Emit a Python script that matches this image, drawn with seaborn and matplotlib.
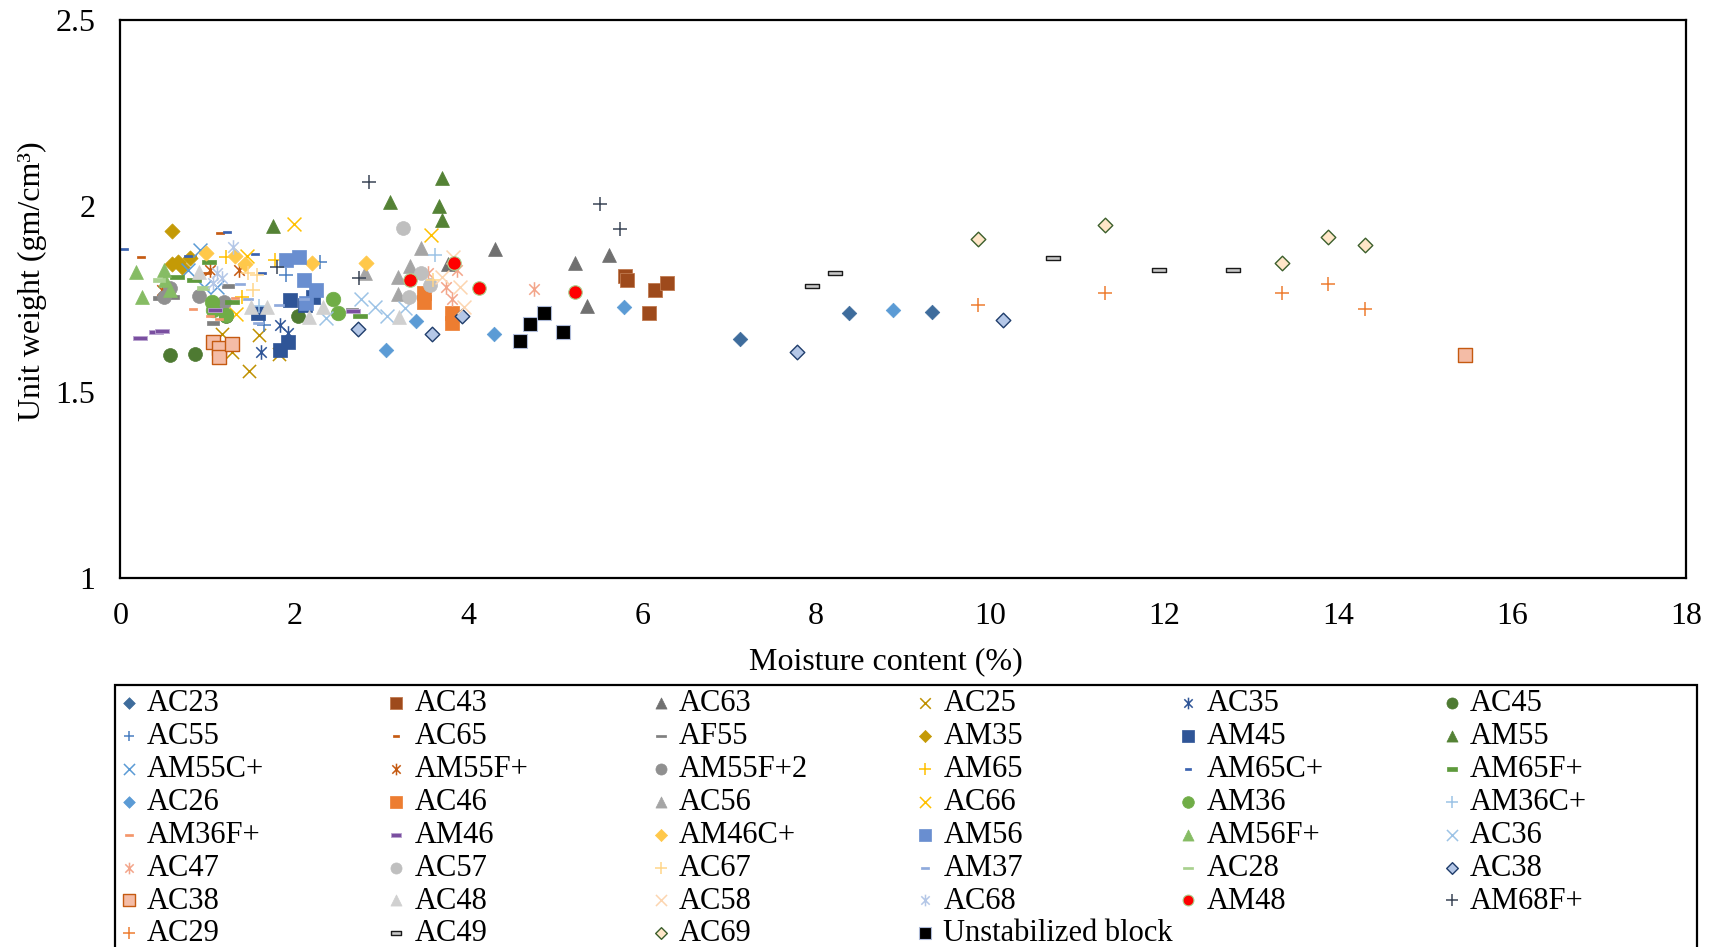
import matplotlib
matplotlib.use("Agg")
import matplotlib.pyplot as plt
from matplotlib.patches import Rectangle
import seaborn as sns
from matplotlib.path import Path

# ---- measured moisture content (%) and unit weight (gm/cm3) per block type ----
x_AC23 = [7.13, 8.38, 9.33]
y_AC23 = [1.642, 1.711, 1.715]
x_AC43 = [5.80, 5.83, 6.08, 6.15, 6.29]
y_AC43 = [1.811, 1.800, 1.711, 1.774, 1.792]
x_AC63 = [3.77, 4.31, 5.23, 5.37, 5.62]
y_AC63 = [1.843, 1.884, 1.846, 1.731, 1.868]
x_AC25 = [1.17, 1.28, 1.48, 1.60, 1.82]
y_AC25 = [1.655, 1.608, 1.557, 1.653, 1.602]
x_AC35 = [1.62, 1.84, 1.93]
y_AC35 = [1.608, 1.680, 1.659]
x_AC45 = [0.57, 0.86, 1.22, 2.04]
y_AC45 = [1.599, 1.601, 1.705, 1.705]
x_AC55 = [1.65, 1.90, 2.30]
y_AC55 = [1.680, 1.814, 1.850]
x_AC65 = [0.24, 0.82, 1.00, 1.15]
y_AC65 = [1.863, 1.866, 1.820, 1.926]
x_AF55 = [0.44, 0.61, 1.07, 1.24, 2.66]
y_AF55 = [1.753, 1.756, 1.684, 1.785, 1.720]
x_AM35 = [0.60, 0.60, 0.66, 0.71, 0.80]
y_AM35 = [1.933, 1.845, 1.850, 1.836, 1.859]
x_AM45 = [1.58, 1.84, 1.93, 1.95, 2.12, 2.22]
y_AM45 = [1.711, 1.613, 1.635, 1.747, 1.733, 1.756]
x_AM55 = [1.76, 3.10, 3.67, 3.70, 3.70]
y_AM55 = [1.946, 2.011, 2.000, 2.074, 1.962]
x_AM55Cp = [0.78, 0.92, 0.96, 1.11]
y_AM55Cp = [1.828, 1.881, 1.783, 1.783]
x_AM55Fp = [0.48, 1.03, 1.36]
y_AM55Fp = [1.774, 1.828, 1.828]
x_AM55Fp2 = [0.50, 0.57, 0.90, 1.19]
y_AM55Fp2 = [1.756, 1.780, 1.758, 1.742]
x_AM65 = [1.21, 1.40, 1.78]
y_AM65 = [1.862, 1.754, 1.854]
x_AM65Cp = [0.04, 0.78, 1.23, 1.55, 1.63]
y_AM65Cp = [1.884, 1.866, 1.930, 1.870, 1.819]
x_AM65Fp = [0.65, 0.85, 1.02, 1.28, 2.76]
y_AM65Fp = [1.808, 1.800, 1.850, 1.742, 1.705]
x_AC26 = [3.06, 3.40, 4.30, 5.79, 8.88]
y_AC26 = [1.614, 1.690, 1.657, 1.727, 1.720]
x_AC46 = [3.49, 3.49, 3.81, 3.81]
y_AC46 = [1.765, 1.742, 1.711, 1.684]
x_AC56 = [2.81, 3.19, 3.19, 3.33, 3.46]
y_AC56 = [1.820, 1.810, 1.763, 1.838, 1.887]
x_AC66 = [1.33, 1.46, 2.00, 3.57]
y_AC66 = [1.709, 1.865, 1.951, 1.922]
x_AM36 = [1.06, 1.07, 1.22, 2.45, 2.50]
y_AM36 = [1.742, 1.720, 1.707, 1.751, 1.711]
x_AM36Cp = [1.60, 3.62]
y_AM36Cp = [1.730, 1.868]
x_AM36Fp = [0.84, 1.03, 1.13, 1.32]
y_AM36Fp = [1.723, 1.705, 1.695, 1.752]
x_AM46 = [0.23, 0.41, 0.48, 1.09, 2.68]
y_AM46 = [1.644, 1.662, 1.664, 1.720, 1.717]
x_AM46Cp = [0.99, 1.32, 1.43, 2.21, 2.83]
y_AM46Cp = [1.874, 1.865, 1.845, 1.847, 1.847]
x_AM56 = [1.90, 2.06, 2.11, 2.14, 2.25]
y_AM56 = [1.854, 1.862, 1.800, 1.738, 1.774]
x_AM56Fp = [0.18, 0.25, 0.50, 0.52, 0.57]
y_AM56Fp = [1.823, 1.756, 1.828, 1.800, 1.774]
x_AC36 = [2.37, 2.77, 2.93, 3.07, 3.27]
y_AC36 = [1.698, 1.750, 1.729, 1.704, 1.725]
x_AC47 = [3.54, 3.75, 3.81, 3.87, 4.76]
y_AC47 = [1.819, 1.783, 1.751, 1.828, 1.776]
x_AC57 = [3.25, 3.32, 3.46, 3.56]
y_AC57 = [1.941, 1.756, 1.819, 1.787]
x_AC67 = [1.47, 1.53, 1.57, 3.60]
y_AC67 = [1.819, 1.774, 1.814, 1.800]
x_AM37 = [1.38, 1.47, 1.58, 1.82, 2.11]
y_AM37 = [1.790, 1.751, 1.686, 1.733, 1.750]
x_AC28 = [0.45, 0.95]
y_AC28 = [1.800, 1.780]
x_AC38d = [2.73, 3.58, 3.93, 7.78, 10.15]
y_AC38d = [1.669, 1.657, 1.705, 1.608, 1.693]
x_AC38s = [1.07, 1.13, 1.13, 1.28, 15.46]
y_AC38s = [1.635, 1.617, 1.595, 1.629, 1.599]
x_AC48 = [0.90, 1.50, 1.69, 2.17, 2.33, 3.20]
y_AC48 = [1.823, 1.727, 1.727, 1.702, 1.729, 1.702]
x_AC58 = [3.70, 3.83, 3.91, 3.95]
y_AC58 = [1.810, 1.863, 1.783, 1.729]
x_AC68 = [1.07, 1.11, 1.17, 1.30]
y_AC68 = [1.792, 1.819, 1.805, 1.890]
x_AM48 = [3.33, 3.84, 4.13, 5.23]
y_AM48 = [1.800, 1.847, 1.780, 1.769]
x_AM68Fp = [1.80, 2.74, 2.86, 5.52, 5.74]
y_AM68Fp = [1.836, 1.805, 2.065, 2.005, 1.938]
x_AC29 = [9.86, 11.32, 13.36, 13.88, 14.31]
y_AC29 = [1.733, 1.767, 1.767, 1.791, 1.722]
x_AC49 = [7.95, 8.22, 10.72, 11.94, 12.79]
y_AC49 = [1.784, 1.820, 1.859, 1.827, 1.827]
x_AC69 = [9.86, 11.32, 13.36, 13.88, 14.31]
y_AC69 = [1.910, 1.948, 1.846, 1.917, 1.895]
x_UNS = [4.59, 4.71, 4.87, 5.09]
y_UNS = [1.636, 1.682, 1.711, 1.662]

x_ticks = [0, 2, 4, 6, 8, 10, 12, 14, 16, 18]
y_ticks = [1, 1.5, 2, 2.5]
y_tick_labels = ["1", "1.5", "2", "2.5"]

# ---- marker shapes ----
DASH = Path([(-1, -0.3), (1, -0.3), (1, 0.3), (-1, 0.3), (-1, -0.3)],
            [Path.MOVETO, Path.LINETO, Path.LINETO, Path.LINETO, Path.CLOSEPOLY])
# an "x" with a vertical stroke through it
ASTER = Path([(0, -1), (0, 1), (-0.72, -0.72), (0.72, 0.72), (-0.72, 0.72), (0.72, -0.72)],
             [Path.MOVETO, Path.LINETO, Path.MOVETO, Path.LINETO, Path.MOVETO, Path.LINETO])

# label, x, y, marker, size, face colour, edge colour, line width
series = [
    ("AC23", x_AC23, y_AC23, "D", 55, "#3E6C9C", "#3E6C9C", 0.5),
    ("AC43", x_AC43, y_AC43, "s", 100, "#9E4A1C", "#C07A50", 0.6),
    ("AC63", x_AC63, y_AC63, "^", 100, "#707070", "#707070", 0.5),
    ("AC25", x_AC25, y_AC25, "x", 90, "#BF9000", None, 1.1),
    ("AC35", x_AC35, y_AC35, ASTER, 110, "#2F5597", "#2F5597", 1.1),
    ("AC45", x_AC45, y_AC45, "o", 100, "#4E7A32", "#4E7A32", 0.5),
    ("AC55", x_AC55, y_AC55, "+", 90, "#4A7FC1", None, 1.1),
    ("AC65", x_AC65, y_AC65, DASH, 36, "#C55A11", "#C55A11", 0.5),
    ("AF55", x_AF55, y_AF55, DASH, 70, "#7F7F7F", "#7F7F7F", 0.5),
    ("AM35", x_AM35, y_AM35, "D", 60, "#C49A06", "#C49A06", 0.5),
    ("AM45", x_AM45, y_AM45, "s", 110, "#2F5597", "#2F5597", 0.5),
    ("AM55", x_AM55, y_AM55, "^", 100, "#548235", "#548235", 0.5),
    ("AM55C+", x_AM55Cp, y_AM55Cp, "x", 100, "#5B9BD5", None, 1.1),
    ("AM55F+", x_AM55Fp, y_AM55Fp, ASTER, 110, "#C55A11", "#C55A11", 1.1),
    ("AM55F+2", x_AM55Fp2, y_AM55Fp2, "o", 100, "#909090", "#909090", 0.5),
    ("AM65", x_AM65, y_AM65, "+", 100, "#FFC000", None, 1.1),
    ("AM65C+", x_AM65Cp, y_AM65Cp, DASH, 36, "#3A62B0", "#3A62B0", 0.5),
    ("AM65F+", x_AM65Fp, y_AM65Fp, DASH, 90, "#5E9A3C", "#5E9A3C", 0.5),
    ("AC26", x_AC26, y_AC26, "D", 55, "#5B9BD5", "#5B9BD5", 0.5),
    ("AC46", x_AC46, y_AC46, "s", 100, "#ED7D31", "#ED7D31", 0.5),
    ("AC56", x_AC56, y_AC56, "^", 100, "#A5A5A5", "#A5A5A5", 0.5),
    ("AC66", x_AC66, y_AC66, "x", 100, "#FFC000", None, 1.1),
    ("AM36", x_AM36, y_AM36, "o", 110, "#70AD47", "#70AD47", 0.5),
    ("AM36C+", x_AM36Cp, y_AM36Cp, "+", 100, "#9DC3E6", None, 1.1),
    ("AM36F+", x_AM36Fp, y_AM36Fp, DASH, 40, "#F4966A", "#F4966A", 0.5),
    ("AM46", x_AM46, y_AM46, DASH, 90, "#7A4FA0", "#B9A3D0", 0.6),
    ("AM46C+", x_AM46Cp, y_AM46Cp, "D", 60, "#FFC84A", "#FFC84A", 0.5),
    ("AM56", x_AM56, y_AM56, "s", 110, "#698ED0", "#698ED0", 0.5),
    ("AM56F+", x_AM56Fp, y_AM56Fp, "^", 100, "#86BC64", "#86BC64", 0.5),
    ("AC36", x_AC36, y_AC36, "x", 100, "#9DC3E6", None, 1.1),
    ("AC47", x_AC47, y_AC47, ASTER, 110, "#F3A58A", "#F3A58A", 1.1),
    ("AC57", x_AC57, y_AC57, "o", 100, "#BFBFBF", "#BFBFBF", 0.5),
    ("AC67", x_AC67, y_AC67, "+", 100, "#FFD68A", None, 1.1),
    ("AM37", x_AM37, y_AM37, DASH, 44, "#8FAADC", "#8FAADC", 0.5),
    ("AC28", x_AC28, y_AC28, DASH, 70, "#A9D18E", "#A9D18E", 0.5),
    ("AC38", x_AC38d, y_AC38d, "D", 55, "#B4C7E7", "#1F3D6B", 1.0),
    ("AC38", x_AC38s, y_AC38s, "s", 100, "#F4BCA6", "#C55A11", 1.0),
    ("AC48", x_AC48, y_AC48, "^", 100, "#D0D0D0", "#D0D0D0", 0.5),
    ("AC58", x_AC58, y_AC58, "x", 100, "#FCD5B0", None, 1.1),
    ("AC68", x_AC68, y_AC68, ASTER, 110, "#B4C7E7", "#B4C7E7", 1.1),
    ("AM48", x_AM48, y_AM48, "o", 95, "#FF0000", "#A9D18E", 0.8),
    ("AM68F+", x_AM68Fp, y_AM68Fp, "+", 100, "#3A4556", None, 1.1),
    ("AC29", x_AC29, y_AC29, "+", 100, "#ED7D31", None, 1.1),
    ("AC49", x_AC49, y_AC49, DASH, 90, "#C8C8C8", "#1A1A1A", 1.0),
    ("AC69", x_AC69, y_AC69, "D", 55, "#FFE6C8", "#3B5E2B", 1.0),
    ("Unstabilized block", x_UNS, y_UNS, "s", 100, "#000000", "#AFBBD8", 0.8),
]

sns.set_theme(style="white")
plt.rcParams["font.family"] = ["Liberation Serif", "DejaVu Serif"]

fig, ax = plt.subplots(figsize=(17.13, 9.47), dpi=100)
fig.subplots_adjust(left=0.0702, right=0.9842, top=0.979, bottom=0.3897)

for label, xs, ys, marker, size, face, edge, lw in series:
    kw = dict(x=xs, y=ys, marker=marker, s=size, color=face, linewidth=lw,
              label=label, ax=ax, legend=False)
    if edge is not None:
        kw["edgecolor"] = edge
    sns.scatterplot(**kw)

ax.set_xlim(0, 18)
ax.set_ylim(1, 2.5)
ax.set_xticks(x_ticks)
ax.set_xticklabels([str(t) for t in x_ticks])
ax.set_yticks(y_ticks)
ax.set_yticklabels(y_tick_labels)
ax.tick_params(axis="both", length=0, labelsize=23, colors="black")
ax.tick_params(axis="x", pad=17)
ax.tick_params(axis="y", pad=18)
for sp in ax.spines.values():
    sp.set_visible(True)
    sp.set_color("black")
    sp.set_linewidth(1.6)
ax.grid(False)

ax.set_xlabel("Moisture content (%)", fontsize=23, color="black", labelpad=12)
ax.xaxis.label.set_x(0.489)
ax.set_ylabel("Unit weight (gm/cm³)", fontsize=23, color="black", labelpad=6)
ax.yaxis.label.set_y(0.532)

# legend: six evenly spaced columns, entries read row by row, inside one frame
handles, labels = ax.get_legend_handles_labels()
ncol = 6
col_left = [0.0688, 0.2251, 0.3794, 0.5338, 0.6875, 0.8412]
legend_top = 0.2722
for c in range(ncol):
    idx = list(range(c, len(handles), ncol))
    leg = fig.legend([handles[i] for i in idx], [labels[i] for i in idx],
                     loc="upper left", bbox_to_anchor=(col_left[c], legend_top),
                     ncol=1, fontsize=22, frameon=False, markerscale=0.8,
                     handlelength=0.7, handletextpad=0.25, labelspacing=0.127,
                     borderpad=0, borderaxespad=0)
    for t in leg.get_texts():
        t.set_color("black")

fig.add_artist(Rectangle((0.067, -0.05), 0.9235, 0.2767 + 0.05,
                         transform=fig.transFigure, fill=False,
                         edgecolor="black", linewidth=1.6, clip_on=False))

fig.savefig("out.png", dpi=100)
